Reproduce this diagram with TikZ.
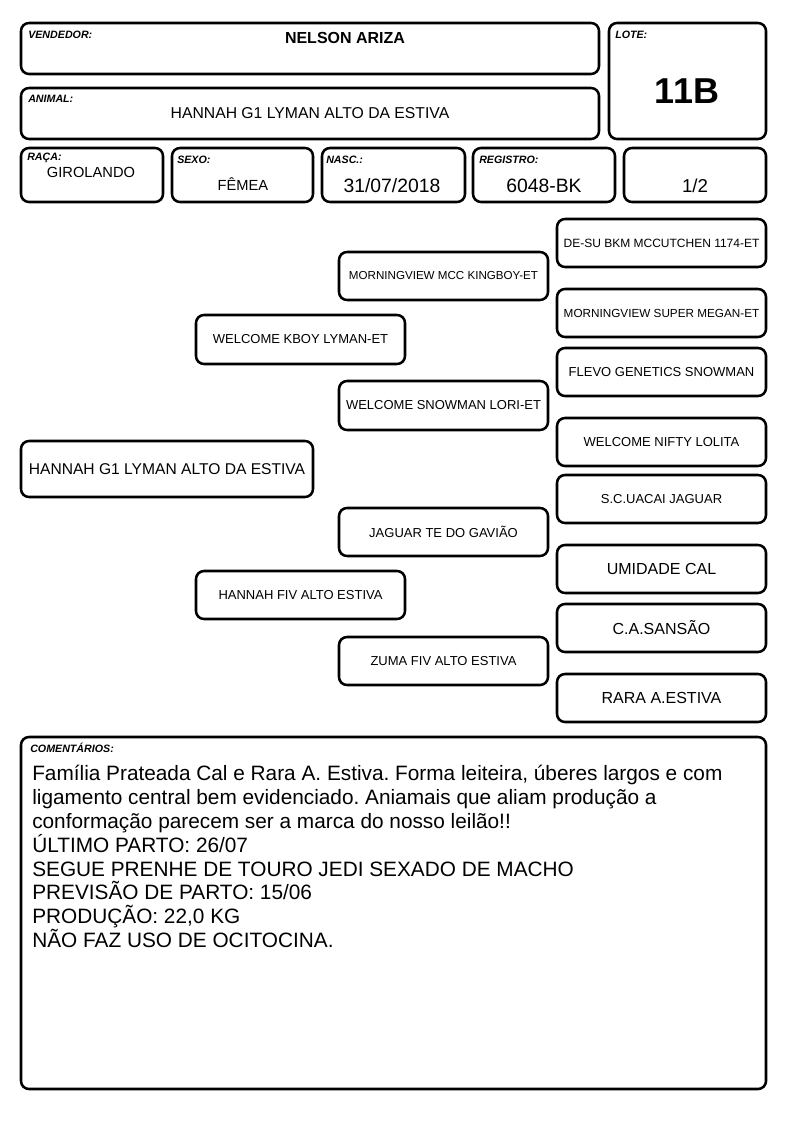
\documentclass[tikz,border=0pt]{standalone}
\usepackage{fontspec}
\setmainfont{Liberation Sans}
\frenchspacing

\begin{document}
\begin{tikzpicture}[x=0.75pt,y=-0.75pt,
  card/.style 2 args={draw, line width=1.9pt, rounded corners=6pt,
    minimum width=#1*0.75pt, minimum height=#2*0.75pt, inner sep=0pt},
  tag/.style={anchor=west, inner sep=0pt, font=\fontsize{8}{9}\selectfont\bfseries\itshape},
  big/.style={inner sep=0pt, font=\fontsize{12}{14}\selectfont},
  mid/.style={inner sep=0pt, font=\fontsize{14.5}{16}\selectfont},
  small/.style={inner sep=0pt, font=\fontsize{9.75}{11}\selectfont}]
  \def\gw{209};
  \def\gh{48};
  \def\ax{443.5};
  \def\bx{661.5};
  \useasboundingbox (0,0) rectangle (794,1123);
  % header
  \node[card={578}{51}] (vend) at (310,48.5) {};
  \node[tag] (vendlbl) at (28,35) {VENDEDOR:};
  \node[big, font=\fontsize{12}{14}\selectfont\bfseries] (vendname) at (345,38) {NELSON ARIZA};
  \node[card={157}{116}] (lote) at (687.5,81) {};
  \node[tag] (lotelbl) at (615,35) {LOTE:};
  \node[inner sep=0pt, font=\fontsize{27}{30}\selectfont\bfseries] (lotenum) at (687,91) {11B};
  \node[card={578}{51}] (animal) at (310,113.5) {};
  \node[tag] (animallbl) at (28,99) {ANIMAL:};
  \node[big, font=\fontsize{11.8}{14}\selectfont] (animalname) at (310,113) {HANNAH G1 LYMAN ALTO DA ESTIVA};
  \node[card={142}{54}] (raca) at (92,175) {};
  \node[tag] (racalbl) at (27,158) {RAÇA:};
  \node[big, font=\fontsize{11}{13}\selectfont] (racaval) at (91,172) {GIROLANDO};
  \node[card={141}{54}] (sexo) at (242.5,175) {};
  \node[tag] (sexolbl) at (177,160) {SEXO:};
  \node[big, font=\fontsize{11}{13}\selectfont] (sexoval) at (243,184) {FÊMEA};
  \node[card={143}{54}] (nasc) at (393.5,175) {};
  \node[tag] (nasclbl) at (326,160) {NASC.:};
  \node[mid] (nascval) at (392,186) {31/07/2018};
  \node[card={142}{54}] (regist) at (544,175) {};
  \node[tag] (registlbl) at (479,160) {REGISTRO:};
  \node[mid] (registval) at (544,186) {6048-BK};
  \node[card={142}{54}] (parte) at (695,175) {};
  \node[mid, font=\fontsize{14}{16}\selectfont] (parteval) at (695,186) {1/2};
  % pedigree
  \node[card={292}{56}, font=\fontsize{11.7}{14}\selectfont] (subject) at (167,469) {HANNAH G1 LYMAN ALTO DA ESTIVA};
  \node[card={\gw}{49}, small] (sire) at (300.5,339.5) {WELCOME KBOY LYMAN-ET};
  \node[card={\gw}{\gh}, small] (dam) at (300.5,595) {HANNAH FIV ALTO ESTIVA};
  \node[card={\gw}{\gh}, small, font=\fontsize{8.7}{10}\selectfont] (ss) at (\ax,276) {MORNINGVIEW MCC KINGBOY-ET};
  \node[card={\gw}{49}, small] (sd) at (\ax,405.5) {WELCOME SNOWMAN LORI-ET};
  \node[card={\gw}{\gh}, small] (ds) at (\ax,532) {JAGUAR TE DO GAVIÃO};
  \node[card={\gw}{\gh}, small] (dd) at (\ax,661) {ZUMA FIV ALTO ESTIVA};
  \node[card={\gw}{\gh}, small, font=\fontsize{9}{10}\selectfont] (sss) at (\bx,243) {DE-SU BKM MCCUTCHEN 1174-ET};
  \node[card={\gw}{\gh}, small, font=\fontsize{8.8}{10}\selectfont] (ssd) at (\bx,313) {MORNINGVIEW SUPER MEGAN-ET};
  \node[card={\gw}{\gh}, small] (sds) at (\bx,372) {FLEVO GENETICS SNOWMAN};
  \node[card={\gw}{\gh}, small] (sdd) at (\bx,442) {WELCOME NIFTY LOLITA};
  \node[card={\gw}{\gh}, small] (dss) at (\bx,499) {S.C.UACAI JAGUAR};
  \node[card={\gw}{\gh}, big] (dsd) at (\bx,569) {UMIDADE CAL};
  \node[card={\gw}{\gh}, big] (dds) at (\bx,628) {C.A.SANSÃO};
  \node[card={\gw}{\gh}, big] (ddd) at (\bx,698) {RARA A.ESTIVA};
  % comments
  \node[card={745}{352}] (obs) at (393.5,913) {};
  \node[tag] (obslbl) at (30,748) {COMENTÁRIOS:};
  \node[anchor=north west, inner sep=0pt, align=left, font=\fontsize{15.6}{17.9}\selectfont] (obstext) at (32,765) {Família Prateada Cal e Rara A. Estiva. Forma leiteira, úberes largos e com\\
    ligamento central bem evidenciado. Aniamais que aliam produção a\\
    conformação parecem ser a marca do nosso leilão!!\\
    ÚLTIMO PARTO: 26/07\\
    SEGUE PRENHE DE TOURO JEDI SEXADO DE MACHO\\
    PREVISÃO DE PARTO: 15/06\\
    PRODUÇÃO: 22,0 KG\\
    NÃO FAZ USO DE OCITOCINA.};
\end{tikzpicture}
\end{document}
